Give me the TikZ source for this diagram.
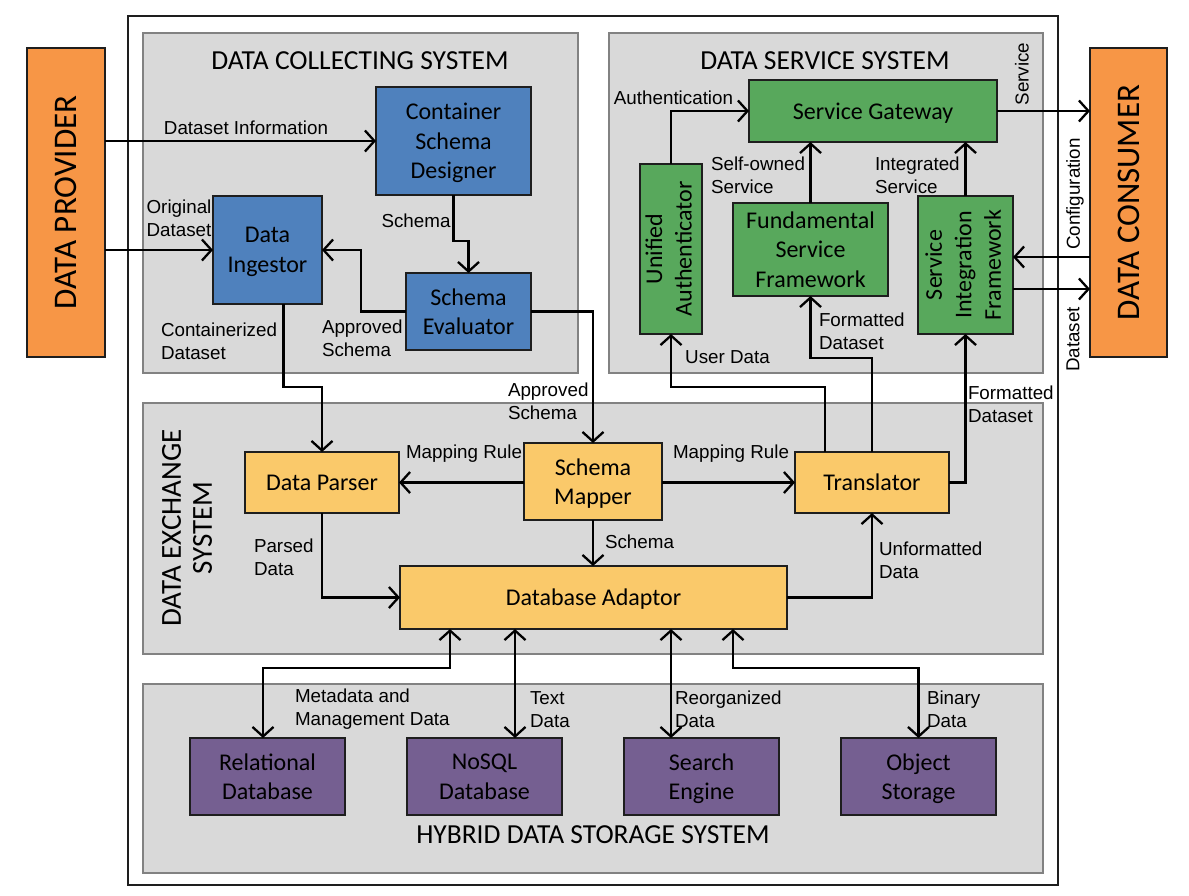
\documentclass[tikz,border=0pt]{standalone}
\usepackage{fontspec}
\setmainfont{Carlito}
\newfontfamily\arialfont{Liberation Sans}
\usepackage{graphicx}
\usetikzlibrary{arrows.meta,calc}
\definecolor{corange}{RGB}{247,150,70}
\definecolor{cblue}{RGB}{79,129,189}
\definecolor{cgreen}{RGB}{88,168,92}
\definecolor{cyellow}{RGB}{250,201,106}
\definecolor{cpurple}{RGB}{117,95,145}
\definecolor{cpanel}{RGB}{217,217,217}
\definecolor{cpanelline}{RGB}{130,130,130}
\definecolor{bline}{RGB}{30,30,30}
\newcommand\bxfont{\fontsize{24}{29.5}\selectfont}
\newcommand\lbfont{\arialfont\fontsize{18.8}{23}\selectfont}
\newcommand\ttlfont{\fontsize{27.5}{30}\selectfont}
\newcommand\exfont{\fontsize{29}{31}\selectfont}
\newcommand\provfont{\fontsize{33}{36}\selectfont}
\begin{document}
\begin{tikzpicture}[x=1pt,y=-1pt,
  box/.style={draw=bline, line width=1.3pt, inner sep=0pt, outer sep=0pt, align=center, font=\bxfont, text depth=0pt},
  bluebox/.style={box, fill=cblue},
  greenbox/.style={box, fill=cgreen},
  yelbox/.style={box, fill=cyellow},
  purbox/.style={box, fill=cpurple},
  orbox/.style={box, fill=corange, font=\provfont},
  panel/.style={fill=cpanel, draw=cpanelline, line width=2pt},
  lab/.style={font=\lbfont, inner sep=0pt, outer sep=0pt, align=left},
  ttl/.style={font=\ttlfont, inner sep=0pt},
  arr/.style={line width=2.3pt, -{Straight Barb[length=9.5pt,width=21pt]}},
  darr/.style={line width=2.3pt, {Straight Barb[length=9.5pt,width=21pt]}-{Straight Barb[length=9.5pt,width=21pt]}}
]
\useasboundingbox[fill=white] (0,0) rectangle (1189,895);

% frames
\draw[draw=bline, line width=2pt, fill=white] (128,16) rectangle (1058,885);
\draw[panel] (143,33) rectangle (578,373);
\draw[panel] (609,33) rectangle (1043,373);
\draw[panel] (143,403) rectangle (1043,654);
\draw[panel] (143,684) rectangle (1043,873);

% titles
\node[ttl] (tdcs) at (360,61) {DATA COLLECTING SYSTEM};
\node[ttl] (tdss) at (825,61) {DATA SERVICE SYSTEM};
\node[ttl, font=\exfont, rotate=90, align=center] (tdes) at (187,528) {DATA EXCHANGE\\SYSTEM};
\node[ttl] (thds) at (593,835) {HYBRID DATA STORAGE SYSTEM};

% outside actors
\node[orbox, minimum width=78, minimum height=309] (prov) at (66,202.5) {\rotatebox{90}{DATA PROVIDER}};
\node[orbox, minimum width=77, minimum height=309] (cons) at (1128.5,202.5) {\rotatebox{90}{DATA CONSUMER}};

% data collecting system
\node[bluebox, minimum width=155, minimum height=108] (csd) at (453.5,141) {Container\\Schema\\Designer};
\node[bluebox, minimum width=109, minimum height=108] (ing) at (267.5,250) {Data\\Ingestor};
\node[bluebox, minimum width=125, minimum height=77] (eval) at (468.5,311.5) {Schema\\Evaluator};

% data service system
\node[greenbox, minimum width=248, minimum height=62] (sg) at (873,111) {Service Gateway};
\node[greenbox, minimum width=62, minimum height=170] (ua) at (671,249) {\rotatebox{90}{\begin{tabular}{@{}c@{}}Unified\\Authenticator\end{tabular}}};
\node[greenbox, minimum width=155, minimum height=93] (fsf) at (810.5,249.5) {Fundamental\\Service\\Framework};
\node[greenbox, minimum width=95, minimum height=138] (sif) at (965.5,265) {\rotatebox{90}{\begin{tabular}{@{}c@{}}Service\\Integration\\Framework\end{tabular}}};

% data exchange system
\node[yelbox, minimum width=154, minimum height=61] (dp) at (322,482.5) {Data Parser};
\node[yelbox, minimum width=138, minimum height=77] (sm) at (593,481.5) {Schema\\Mapper};
\node[yelbox, minimum width=154, minimum height=61] (tr) at (872,482.5) {Translator};
\node[yelbox, minimum width=387, minimum height=63] (da) at (593.5,597.5) {Database Adaptor};

% storage
\node[purbox, minimum width=155, minimum height=77] (rel) at (267.5,776.5) {Relational\\Database};
\node[purbox, minimum width=155, minimum height=77] (nosql) at (484.5,776.5) {NoSQL\\Database};
\node[purbox, minimum width=155, minimum height=77] (search) at (701.5,776.5) {Search\\Engine};
\node[purbox, minimum width=155, minimum height=77] (obj) at (918.5,776.5) {Object\\Storage};

% connectors: collecting
\draw[arr] (prov.east |- csd.west) -- (csd.west);
\draw[arr] (prov.east |- ing.west) -- (ing.west);
\draw[arr] (csd.south) -- ++(0,46) -| (eval.north);
\draw[arr] (eval.west) -- ++(-45,0) |- (ing.east);
\draw[arr] ([xshift=16]ing.south) -- ++(0,83) -| (dp.north);
\draw[arr] (eval.east) -| (sm.north);

% connectors: exchange
\draw[arr] (sm.west |- dp.east) -- (dp.east);
\draw[arr] (sm.east |- tr.west) -- (tr.west);
\draw[arr] (sm.south) -- (sm.south |- da.north);
\draw[arr] (dp.south) |- (da.west);
\draw[arr] (da.east) -| (tr.south);

% connectors: service
\draw[arr] ([xshift=-47]tr.north) -- ++(0,-65) -| (ua.south);
\draw[arr] (tr.north) -- ++(0,-94) -| (fsf.south);
\draw[arr] (tr.east) -| (sif.south);
\draw[arr] (sif.north) -- (sif.north |- sg.south);
\draw[arr] (fsf.north) -- (fsf.north |- sg.south);
\draw[arr] (ua.north) |- (sg.west);
\draw[arr] (sg.east) -- (sg.east -| cons.west);
\coordinate (cfg) at ([yshift=8]sif.east);
\coordinate (dso) at ([yshift=-24]sif.east);
\draw[arr] (cons.west |- cfg) -- (cfg);
\draw[arr] (dso) -- (cons.west |- dso);

% connectors: storage
\draw[darr] ([xshift=-143.5]da.south) -- ++(0,39) -| ([xshift=-4.5]rel.north);
\draw[darr] ([xshift=-78.5]da.south) -- ([xshift=-78.5]da.south |- nosql.north);
\draw[darr] ([xshift=77.5]da.south) -- ([xshift=77.5]da.south |- search.north);
\draw[darr] ([xshift=139.5]da.south) -- ++(0,39) -| (obj.north);

% labels
\node[lab] (l1) at (246,128) {Dataset Information};
\node[lab, align=right] (l2) at (179,218) {Original\\Dataset};
\node[lab] (l3) at (416,221) {Schema};
\node[lab, anchor=west] (l4) at (322,338) {Approved\\Schema};
\node[lab, anchor=west] (l5) at (161,341) {Containerized\\Dataset};
\node[lab, anchor=west] (l6) at (508,401) {Approved\\Schema};
\node[lab] (l7) at (464,454) {Mapping Rule};
\node[lab] (l8) at (731,454) {Mapping Rule};
\node[lab, anchor=west] (l9) at (605,542) {Schema};
\node[lab, anchor=west] (l10) at (254,557) {Parsed\\Data};
\node[lab, anchor=west] (l11) at (879,560) {Unformatted\\Data};
\node[lab, anchor=west] (l12) at (968,404) {Formatted\\Dataset};
\node[lab] (l13) at (727.5,357) {User Data};
\node[lab, anchor=west] (l14) at (819,331.5) {Formatted\\Dataset};
\node[lab, anchor=west] (l15) at (711,175.5) {Self-owned\\Service};
\node[lab, anchor=west] (l16) at (875,175) {Integrated\\Service};
\node[lab] (l17) at (673.5,98) {Authentication};
\node[lab, rotate=90] (l18) at (1022,74) {Service};
\node[lab, rotate=90] (l19) at (1075,194) {Configuration};
\node[lab, rotate=90] (l20) at (1073,339.5) {Dataset};
\node[lab, anchor=west] (l21) at (295,709.5) {Metadata and\\Management Data};
\node[lab, anchor=west] (l22) at (530,709.5) {Text\\Data};
\node[lab, anchor=west] (l23) at (675,709.5) {Reorganized\\Data};
\node[lab, anchor=west] (l24) at (927,709.5) {Binary\\Data};
\end{tikzpicture}
\end{document}
